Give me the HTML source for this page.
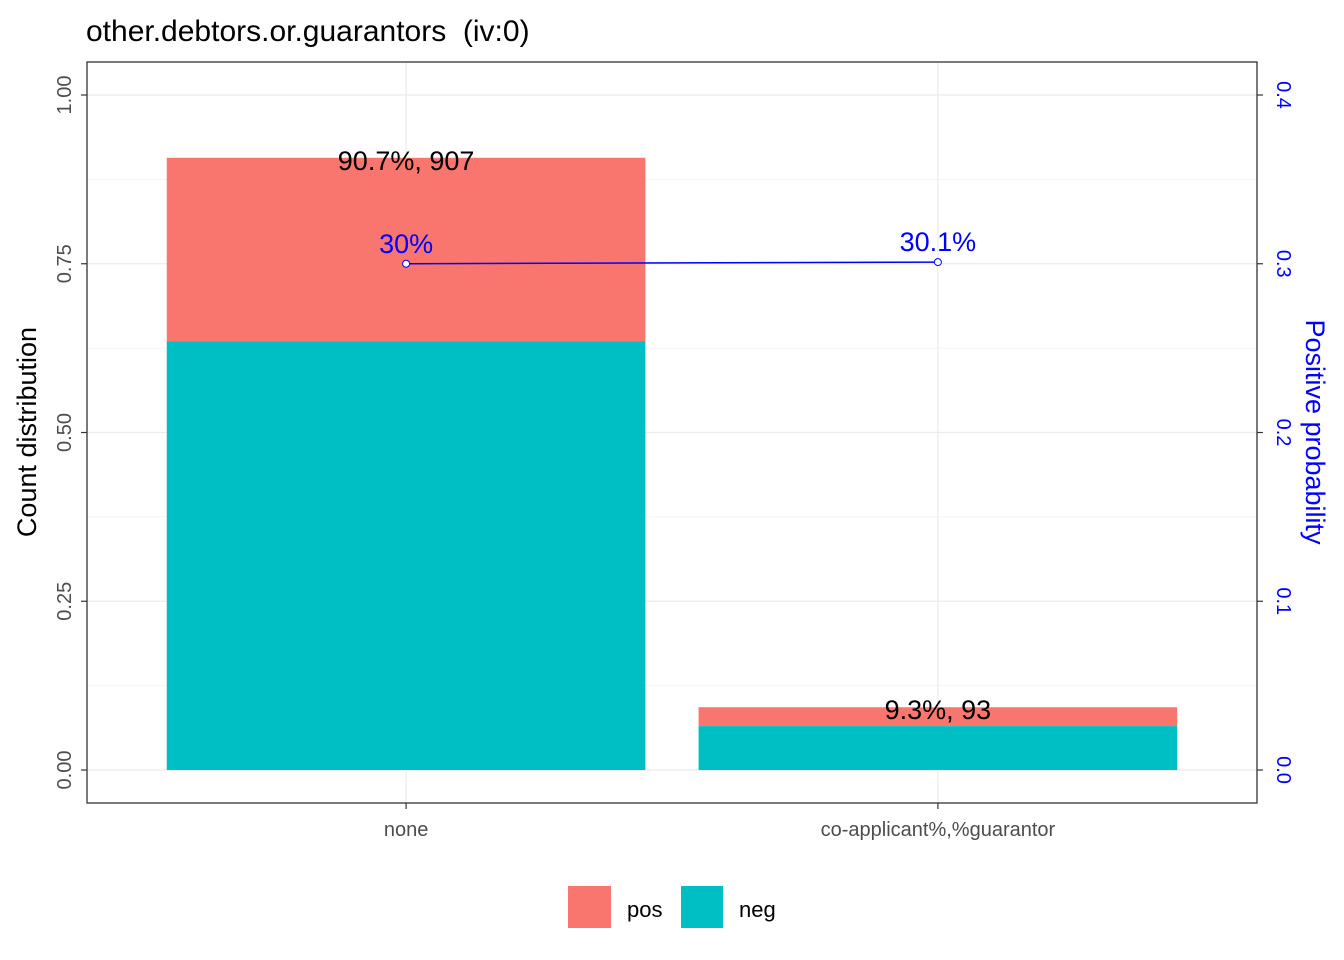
<!DOCTYPE html>
<html><head><meta charset="utf-8"><style>
html,body{margin:0;padding:0;background:#fff;}
svg{display:block;font-family:"Liberation Sans",Arial,sans-serif;}
</style></head><body>
<svg id="chart" width="1344" height="960"></svg>
<script>
const categories=["none","co-applicant%,%guarantor"];
const totalShare=[0.907,0.093];
const counts=[907,93];
const posProb=[0.300,0.301];
const probLabels=["30%","30.1%"];
const leftTicks=[0,0.25,0.5,0.75,1.0];
const leftTickLabels=["0.00","0.25","0.50","0.75","1.00"];
const rightTicks=[0,0.1,0.2,0.3,0.4];

const NS="http://www.w3.org/2000/svg";
const svg=document.getElementById('chart');
const PL=87,PR=1257,PT=62,PB=803;
const Y0=770,Y1=95;
const yL=v=>Y0-(Y0-Y1)*v;
const yR=v=>Y0-(Y0-Y1)*v/0.4;
const band=(PR-PL)/(categories.length+0.2);
const xC=i=>PL+band*0.1+band*i+band/2;
const bw=band*0.9;
function el(tag,attrs,parent){const e=document.createElementNS(NS,tag);for(const k in attrs)e.setAttribute(k,attrs[k]);(parent||svg).appendChild(e);return e;}

for(let i=0;i<leftTicks.length;i++){
  const g=el('line',{x1:PL,x2:PR,y1:yL(leftTicks[i]),y2:yL(leftTicks[i]),stroke:'#ebebeb','stroke-width':1.2});
  
  
  if(i<leftTicks.length-1){const m=(leftTicks[i]+leftTicks[i+1])/2;
    const gm=el('line',{x1:PL,x2:PR,y1:yL(m),y2:yL(m),stroke:'#f2f2f2','stroke-width':0.8});
    
    }
}
categories.forEach((c,i)=>{
  const g=el('line',{x1:xC(i),x2:xC(i),y1:PT,y2:PB,stroke:'#ebebeb','stroke-width':1.2});
  
  
});

categories.forEach((c,i)=>{
  const x=xC(i)-bw/2;
  const tot=totalShare[i], neg=tot*(1-posProb[i]);
  const rp=el('rect',{x:x,y:yL(tot),width:bw,height:yL(neg)-yL(tot),fill:'#F8766D'});
  
  
  const rn=el('rect',{x:x,y:yL(neg),width:bw,height:yL(0)-yL(neg),fill:'#00BFC4'});
  
  
  const t=el('text',{x:xC(i),y:yL(tot)+12,'text-anchor':'middle','font-size':27,fill:'#000'});
  t.textContent=(tot*100).toFixed(1)+'%, '+counts[i];
  
  
});

const pts=categories.map((c,i)=>xC(i)+','+yR(posProb[i])).join(' ');
const pl=el('polyline',{points:pts,fill:'none',stroke:'#0000ff','stroke-width':1.5});


categories.forEach((c,i)=>{
  const p=el('circle',{cx:xC(i),cy:yR(posProb[i]),r:3.5,fill:'#fff',stroke:'#0000ff','stroke-width':1});
  
  
  const t=el('text',{x:xC(i),y:yR(posProb[i])-11,'text-anchor':'middle','font-size':27,fill:'#0000ff'});
  t.textContent=probLabels[i];
  
  
});

const bd=el('rect',{x:PL,y:PT,width:PR-PL,height:PB-PT,fill:'none',stroke:'#333','stroke-width':1.3});



leftTicks.forEach((v,i)=>{
  el('line',{x1:PL-6,x2:PL,y1:yL(v),y2:yL(v),stroke:'#333','stroke-width':1.2});
  const t=el('text',{x:0,y:0,transform:`translate(71,${yL(v)}) rotate(-90)`,'text-anchor':'middle','font-size':20,fill:'#4d4d4d'});
  t.textContent=leftTickLabels[i];
  
  
});
rightTicks.forEach(v=>{
  el('line',{x1:PR,x2:PR+6,y1:yR(v),y2:yR(v),stroke:'#333','stroke-width':1.2});
  const t=el('text',{x:0,y:0,transform:`translate(1277,${yR(v)}) rotate(90)`,'text-anchor':'middle','font-size':20,fill:'#0000ff'});
  t.textContent=v.toFixed(1);
  
  
});
categories.forEach((c,i)=>{
  el('line',{x1:xC(i),x2:xC(i),y1:PB,y2:PB+6,stroke:'#333','stroke-width':1.2});
  const t=el('text',{x:xC(i),y:836,'text-anchor':'middle','font-size':20,fill:'#4d4d4d'});
  t.textContent=c;
  
  
});
</script>
<svg style="position:absolute;left:0;top:0" width="1344" height="960">
<text x="86" y="41" font-size="30" fill="#000" style="white-space:pre" font-family="Liberation Sans,sans-serif">other.debtors.or.guarantors  (iv:0)</text>
<text transform="translate(36,432) rotate(-90)" text-anchor="middle" font-size="27" fill="#000" font-family="Liberation Sans,sans-serif">Count distribution</text>
<text transform="translate(1306,432) rotate(90)" text-anchor="middle" font-size="27" fill="#0000ff" font-family="Liberation Sans,sans-serif">Positive probability</text>
<g>
<rect x="568" y="886" width="43" height="42" fill="#F8766D"/>
<text x="627" y="917" font-size="22" fill="#000" font-family="Liberation Sans,sans-serif">pos</text>
<rect x="681" y="886" width="42" height="42" fill="#00BFC4"/>
<text x="739" y="917" font-size="22" fill="#000" font-family="Liberation Sans,sans-serif">neg</text>
</g>
</svg>
</body></html>
